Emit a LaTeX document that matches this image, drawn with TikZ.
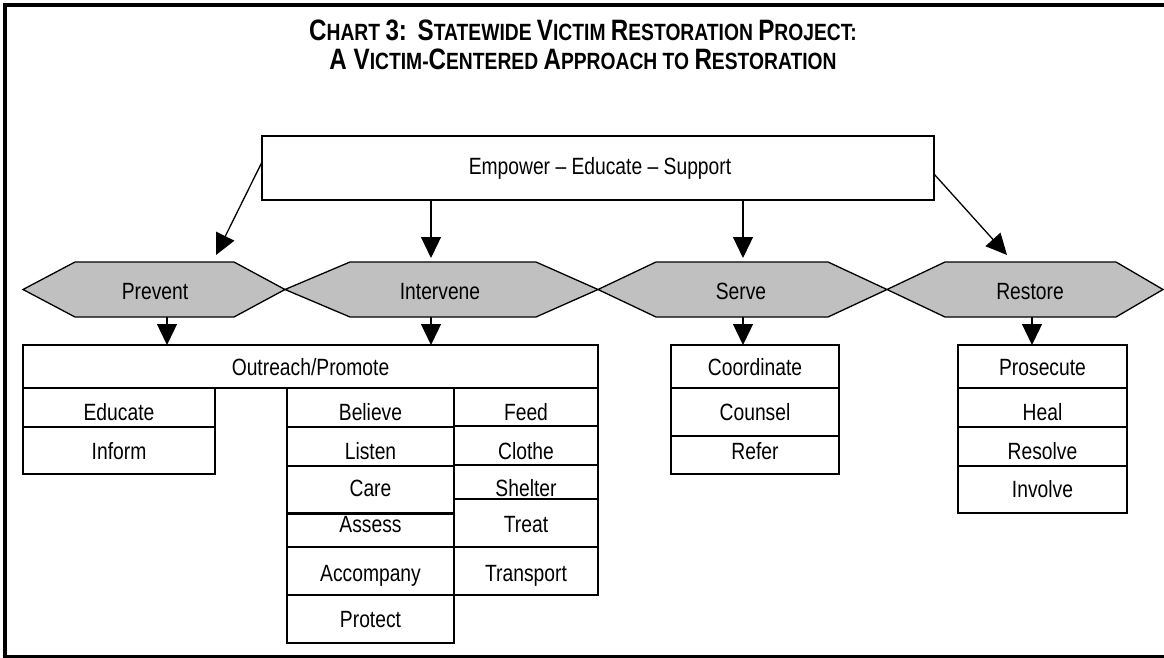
\documentclass[tikz,border=0pt]{standalone}
\usepackage{fontspec}
\setmainfont{Liberation Sans}[FakeStretch=0.82]
\usetikzlibrary{arrows.meta}
\newcommand\tB[1]{{\fontsize{29.5}{32}\selectfont #1}}
\newcommand\tS[1]{{\fontsize{23.5}{26}\selectfont #1}}
\newcommand\cell[7]{\draw[box] (#2,#3) rectangle (#4,#5); \node[lbl] (#1) at ({(#2+#4)/2},#6) {#7};}
\newcommand\hexa[5]{\filldraw[hex] (#1,289.5) -- (#2,262) -- (#3,262) -- (#4,289.5) -- (#3,317) -- (#2,317) -- cycle; \coordinate (#5) at ({(#1+#4)/2},289.5);}
\begin{document}
\begin{tikzpicture}[x=1pt,y=-1pt,
  box/.style={draw, line width=1.5pt},
  hex/.style={draw, line width=1.3pt, fill=hexgray},
  lbl/.style={font=\fontsize{23.5}{26}\selectfont, inner sep=0pt, text height=17pt, text depth=0pt},
  ttl/.style={font=\fontsize{23.5}{26}\selectfont\bfseries, inner sep=0pt, anchor=base},
  arr/.style={line width=1.3pt, -{Triangle[width=20pt,length=21pt]}}]
\definecolor{hexgray}{RGB}{192,192,192}
\useasboundingbox (0,0) rectangle (1164,658);
% frame
\draw[line width=3.8pt] (1164,5) -- (5.2,5) -- (5.2,656.5) -- (1164,656.5);
% title
\node[ttl] (t1) at (583,41)
  {\tB{C}\tS{HART} \tB{3:}\ \ \tB{S}\tS{TATEWIDE} \tB{V}\tS{ICTIM} \tB{R}\tS{ESTORATION} \tB{P}\tS{ROJECT:}};
\node[ttl] (t2) at (583,70)
  {\tB{A V}\tS{ICTIM-}\tB{C}\tS{ENTERED} \tB{A}\tS{PPROACH TO} \tB{R}\tS{ESTORATION}};
% top box
\draw[box] (262,136) rectangle (934,200);
\node[lbl] (emp) at (600,166) {Empower -- Educate -- Support};
% hexagons
\hexa{23}{75}{234}{285}{prevc}
\hexa{285}{350}{536}{598}{intc}
\hexa{598}{656}{828}{887}{servc}
\hexa{887}{945}{1116}{1163}{restc}
\node[lbl] (prev) at (155,291) {Prevent};
\node[lbl] (int) at (440,291) {Intervene};
\node[lbl] (serv) at (741,291) {Serve};
\node[lbl] (rest) at (1030,291) {Restore};
% arrow end points
\coordinate (a1s) at (262,162); \coordinate (a1e) at (216,255);
\coordinate (a2s) at (431,200); \coordinate (a2e) at (431,258);
\coordinate (a3s) at (743,200); \coordinate (a3e) at (743,258);
\coordinate (a4s) at (934,174); \coordinate (a4e) at (1007,255);
\coordinate (b1s) at (167,317); \coordinate (b1e) at (167,345);
\coordinate (b2s) at (431,317); \coordinate (b2e) at (431,345);
\coordinate (b3s) at (743,317); \coordinate (b3e) at (743,345);
\coordinate (b4s) at (1032,317); \coordinate (b4e) at (1032,345);
\draw[arr] (a1s) -- (a1e);
\draw[arr] (a2s) -- (a2e);
\draw[arr] (a3s) -- (a3e);
\draw[arr] (a4s) -- (a4e);
\draw[arr] (b1s) -- (b1e);
\draw[arr] (b2s) -- (b2e);
\draw[arr] (b3s) -- (b3e);
\draw[arr] (b4s) -- (b4e);
% outreach
\cell{outr}{23}{345}{598}{388}{367}{Outreach/Promote}
\cell{educ}{23}{388}{215}{427}{412}{Educate}
\cell{info}{23}{427}{215}{474}{451}{Inform}
\cell{beli}{287}{388}{454}{427}{412}{Believe}
\cell{list}{287}{427}{454}{466}{451}{Listen}
\cell{care}{287}{466}{454}{513}{488}{Care}
\cell{asse}{287}{514}{454}{547}{524}{Assess}
\cell{acco}{287}{547}{454}{595}{573}{Accompany}
\cell{prot}{287}{595}{454}{643}{619}{Protect}
\cell{feed}{454}{388}{598}{426}{412}{Feed}
\cell{clot}{454}{426}{598}{465}{451}{Clothe}
\cell{shel}{454}{465}{598}{499}{488}{Shelter}
\cell{trea}{454}{499}{598}{547}{524}{Treat}
\cell{tran}{454}{547}{598}{595}{573}{Transport}
% serve
\cell{coor}{671}{345}{839}{388}{367}{Coordinate}
\cell{coun}{671}{388}{839}{436}{412}{Counsel}
\cell{refe}{671}{436}{839}{474}{451}{Refer}
% restore
\cell{pros}{958}{345}{1127}{388}{367}{Prosecute}
\cell{heal}{958}{388}{1127}{427}{412}{Heal}
\cell{reso}{958}{427}{1127}{466}{451}{Resolve}
\cell{invo}{958}{466}{1127}{513}{489}{Involve}
\end{tikzpicture}
\end{document}
